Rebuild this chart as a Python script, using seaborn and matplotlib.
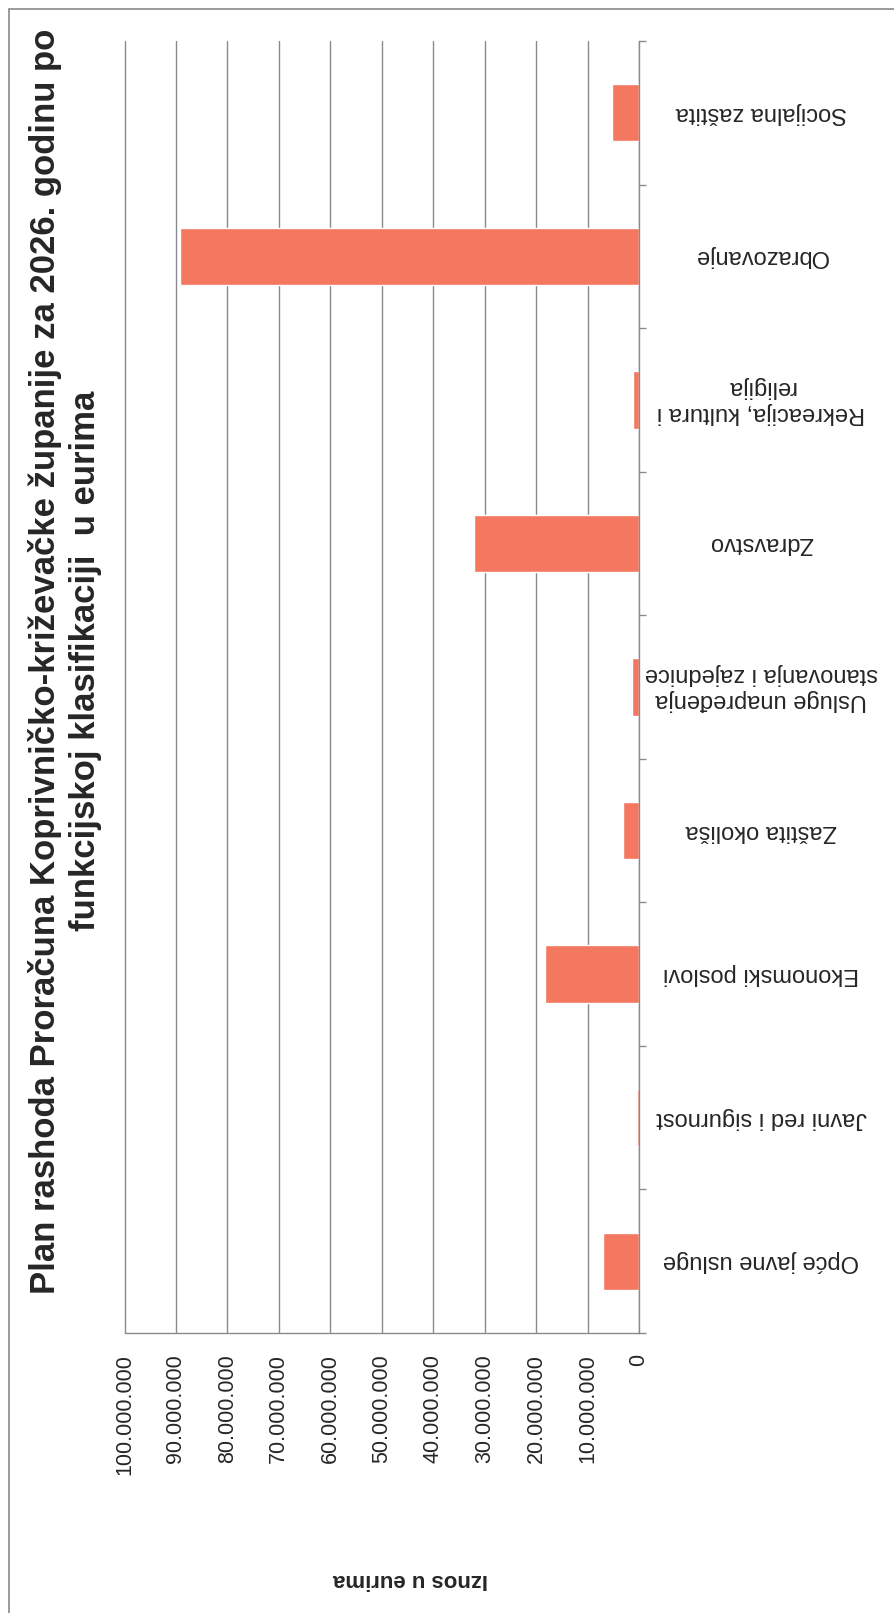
import numpy as np
import pandas as pd
import matplotlib
matplotlib.use("Agg")
import matplotlib.pyplot as plt
from matplotlib.patches import Rectangle
from matplotlib.ticker import FuncFormatter
import seaborn as sns

# ---------------------------------------------------------------
# DATA (values in euros)
# ---------------------------------------------------------------
categories = [
    "Opće javne usluge",
    "Javni red i sigurnost",
    "Ekonomski poslovi",
    "Zaštita okoliša",
    "Usluge unapređenja\nstanovanja i zajednice",
    "Zdravstvo",
    "Rekreacija, kultura i\nreligija",
    "Obrazovanje",
    "Socijalna zaštita",
]
amounts = [7.0e6, 0.3e6, 18.2e6, 3.2e6, 1.4e6, 32.0e6, 1.2e6, 89.2e6, 5.2e6]
value_ticks = np.arange(0, 100_000_001, 10_000_000)

title = ("Plan rashoda Proračuna Koprivničko-križevačke županije za 2026. godinu po\n"
         "funkcijskoj klasifikaciji  u eurima")
value_label = "Iznos u eurima"

df = pd.DataFrame({"kategorija": categories, "iznos": amounts})

# ---------------------------------------------------------------
# PLOT (the page is scanned sideways, so the column chart is drawn
# as horizontal bars with rotated texts)
# ---------------------------------------------------------------
sns.set_style("white")
plt.rcParams["font.family"] = ["Liberation Sans", "DejaVu Sans"]

W, H = 895, 1613
fig = plt.figure(figsize=(W / 100, H / 100), dpi=100)
ax = fig.add_axes([124.5 / W, 1 - 1333 / H, (639 - 124.5) / W, (1333 - 41) / H])

sns.barplot(data=df, x="iznos", y="kategorija", order=categories,
            color="#F4775F", saturation=1, width=0.4, ax=ax)

ax.set_xlim(100_000_000, 0)
ax.set_ylim(-0.5, len(categories) - 0.5)

# value axis (bottom)
ax.set_xticks(value_ticks)
ax.xaxis.set_major_formatter(FuncFormatter(lambda v, p: f"{int(v):,}".replace(",", ".")))
ax.tick_params(axis="x", direction="out", length=5, width=1, color="#8a8a8a",
               labelsize=15.5, labelrotation=90, pad=10)
for lbl in ax.get_xticklabels():
    lbl.set_va("top")
ax.set_xlabel("")
ax.grid(axis="x", color="#8a8a8a", linewidth=1)
ax.set_axisbelow(True)

# category axis (right side)
ax.yaxis.tick_right()
ax.set_yticks(np.arange(-0.5, len(categories)), minor=False)
ax.set_yticklabels([])
ax.set_yticks(np.arange(len(categories)), minor=True)
ax.set_yticklabels(categories, minor=True, rotation=180, ha="center", va="center",
                   fontsize=17, multialignment="center")
ax.tick_params(axis="y", which="major", direction="out", length=5, width=1,
               color="#8a8a8a", left=False, right=True)
ax.tick_params(axis="y", which="minor", length=0, pad=88, left=False, right=True,
               labelleft=False, labelright=True)
ax.set_ylabel("")

for side in ["top", "left"]:
    ax.spines[side].set_visible(False)
for side in ["bottom", "right"]:
    ax.spines[side].set_color("#8a8a8a")
    ax.spines[side].set_linewidth(1)

# title and value axis label
fig.text(65 / W, 1 - 661 / H, title, rotation=90, ha="center", va="center",
         multialignment="center", fontsize=25, fontweight="bold", linespacing=1.3)
fig.text(411 / W, 1 - 1579 / H, value_label, rotation=180, ha="center", va="center",
         fontsize=16, fontweight="bold")

# frame of the scanned chart
fig.patches.append(Rectangle((9 / W, -0.05), 1.1, 1 - 9 / H + 0.05,
                             transform=fig.transFigure, fill=False,
                             edgecolor="#8a8a8a", linewidth=1.2))

fig.savefig("out.png", dpi=100, facecolor="white")
